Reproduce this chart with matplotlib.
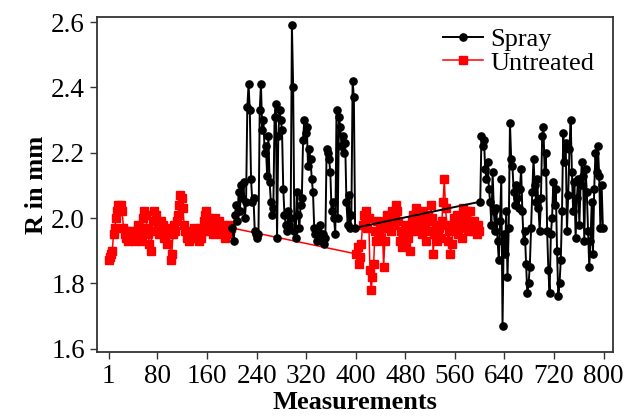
import numpy as np
import matplotlib
matplotlib.use('Agg')
import matplotlib.pyplot as plt

plt.rcParams['font.family'] = ['Liberation Serif', 'DejaVu Serif']

# Untreated, measurements 1-199 and 401-599 (every 2nd reading)
untreated_a = [1.87, 1.88, 1.89, 1.90, 1.95, 1.97, 2.00, 2.02, 2.04, 2.03,
               2.04, 2.02, 1.97, 1.95, 1.94, 1.96, 1.93, 1.95, 1.94, 1.96,
               1.95, 1.93, 1.96, 1.94, 1.98, 1.95, 1.97, 1.93, 2.00, 2.02,
               2.01, 1.97, 1.95, 1.92, 1.90, 1.96, 1.99, 2.02, 2.01, 1.99,
               1.97, 1.95, 1.99, 1.96, 1.98, 1.94, 1.96, 1.92, 1.97, 1.95,
               1.87, 1.89, 1.95, 1.98, 1.96, 1.99, 2.01, 2.04, 2.07, 2.06,
               2.03, 1.98, 1.96, 1.94, 1.95, 1.93, 1.96, 1.94, 1.95, 1.97,
               1.94, 1.96, 1.95, 1.93, 1.97, 1.94, 1.96, 1.99, 2.01, 2.02,
               2.00, 1.98, 1.96, 1.99, 1.95, 1.97, 2.00, 1.98, 1.96, 1.99,
               1.97, 1.95, 1.98, 1.96, 1.94, 1.97, 1.95, 1.98, 1.96, 1.97]
untreated_b = [1.89, 1.91, 1.86, 1.88, 1.92, 1.98, 2.01, 1.99, 2.02, 1.97,
               2.00, 1.84, 1.78, 1.82, 1.86, 1.96, 1.93, 1.99, 1.95, 1.97,
               1.94, 1.98, 1.85, 1.93, 1.99, 2.01, 1.97, 2.00, 1.96, 2.02,
               1.98, 2.01, 2.04, 2.02, 1.99, 1.93, 1.96, 1.91, 1.95, 1.98,
               1.92, 1.97, 1.94, 1.90, 1.96, 1.99, 2.01, 1.97, 2.03, 1.99,
               1.96, 2.00, 1.98, 1.95, 2.02, 1.97, 1.93, 1.99, 2.01, 1.96,
               2.04, 2.00, 1.89, 1.95, 1.98, 1.93, 1.96, 1.97, 1.94, 1.99,
               2.05, 2.12, 2.03, 1.98, 1.93, 1.96, 1.89, 1.92, 1.97, 2.00,
               1.98, 2.01, 1.95, 1.97, 2.00, 1.94, 2.03, 2.01, 1.98, 2.02,
               1.96, 1.99, 2.02, 1.98, 1.96, 1.99, 1.97, 1.95, 1.98, 1.96]

# Spray, measurements 201-399 and 601-799
spray_a = [1.97, 1.93, 2.01, 2.04, 1.99, 2.08, 2.02, 2.10, 2.06, 2.11,
           2.00, 2.05, 2.34, 2.41, 2.33, 2.12, 2.05, 2.06, 1.96, 1.95,
           1.94, 1.95, 2.33, 2.41, 2.27, 2.30, 2.20, 2.22, 2.13, 2.25,
           2.11, 2.05, 2.01, 2.03, 2.31, 2.35, 1.94, 2.25, 2.33, 2.30,
           2.27, 2.09, 2.01, 1.98, 1.96, 2.02, 1.98, 2.00, 2.59, 2.40,
           1.96, 1.94, 2.08, 2.01, 1.97, 2.04, 2.06, 2.24, 2.30, 2.26,
           2.28, 2.16, 2.21, 2.18, 2.12, 2.08, 1.97, 1.95, 1.93, 1.96,
           1.94, 1.98, 1.93, 1.95, 1.92, 1.94, 2.21, 2.20, 2.18, 2.14,
           2.02, 2.05, 2.00, 1.95, 2.33, 2.00, 2.31, 2.28, 2.22, 2.25,
           2.20, 2.23, 2.05, 1.98, 2.07, 1.97, 2.01, 2.42, 2.37, 1.97]
spray_b = [2.05, 2.25, 2.22, 2.24, 2.15, 2.12, 2.17, 2.09, 2.05, 1.98,
           2.14, 2.02, 1.96, 2.03, 1.93, 1.87, 1.99, 2.12, 1.67, 1.95,
           1.89, 2.02, 1.82, 1.97, 2.29, 2.18, 2.16, 2.08, 2.04, 2.10,
           2.06, 2.03, 2.09, 2.15, 2.02, 1.93, 1.96, 1.86, 1.77, 1.80,
           1.85, 1.97, 2.08, 2.18, 2.10, 2.05, 2.12, 2.03, 1.96, 2.06,
           2.25, 2.28, 2.14, 2.20, 1.96, 1.84, 1.77, 1.95, 2.00, 2.11,
           2.04, 2.09, 1.90, 1.76, 1.80, 1.87, 2.02, 2.26, 2.17, 2.23,
           1.96, 2.07, 2.21, 2.30, 2.14, 2.02, 2.11, 1.94, 2.06, 2.12,
           1.98, 2.10, 2.17, 2.13, 1.93, 2.15, 2.08, 1.96, 1.85, 1.93,
           2.05, 1.89, 2.09, 2.20, 2.14, 2.22, 2.13, 1.97, 2.10, 1.97]

x_untreated = np.concatenate([np.arange(1, 200, 2), np.arange(401, 600, 2)])
x_spray = np.concatenate([np.arange(201, 400, 2), np.arange(601, 800, 2)])
y_untreated = np.array(untreated_a + untreated_b)
y_spray = np.array(spray_a + spray_b)

xticks = [1, 80, 160, 240, 320, 400, 480, 560, 640, 720, 800]
yticks = [1.6, 1.8, 2.0, 2.2, 2.4, 2.6]

fig = plt.figure(figsize=(6.41, 4.18), dpi=100)
ax = fig.add_axes([0.151, 0.158, 0.805, 0.801])

ax.plot(x_untreated, y_untreated, color='red', lw=1.1, marker='s', ms=5.2,
        label='Untreated', zorder=2)
ax.plot(x_spray, y_spray, color='black', lw=1.4, marker='o', ms=5.2,
        label='Spray', zorder=3)

ax.set_xlim(-18, 815)
ax.set_ylim(1.59, 2.615)
ax.set_xticks(xticks)
ax.set_yticks(yticks)
ax.set_yticklabels(['%.1f' % v for v in yticks])
ax.tick_params(labelsize=19.5, length=5, width=1, colors='#333333', labelcolor='black')
ax.tick_params(axis='x', pad=4)
for s in ax.spines.values():
    s.set_color('#333333')
    s.set_linewidth(1.3)

ax.set_xlabel('Measurements', fontsize=19, fontweight='bold', labelpad=1)
ax.set_ylabel('R in mm', fontsize=19, fontweight='bold', labelpad=2)

h, l = ax.get_legend_handles_labels()
ax.legend(h[::-1], l[::-1], loc='upper right', frameon=False, fontsize=19,
          handlelength=1.5, handletextpad=0.3, labelspacing=0.0,
          borderaxespad=0.0, bbox_to_anchor=(0.985, 1.0))

fig.savefig('out.png', dpi=100)
